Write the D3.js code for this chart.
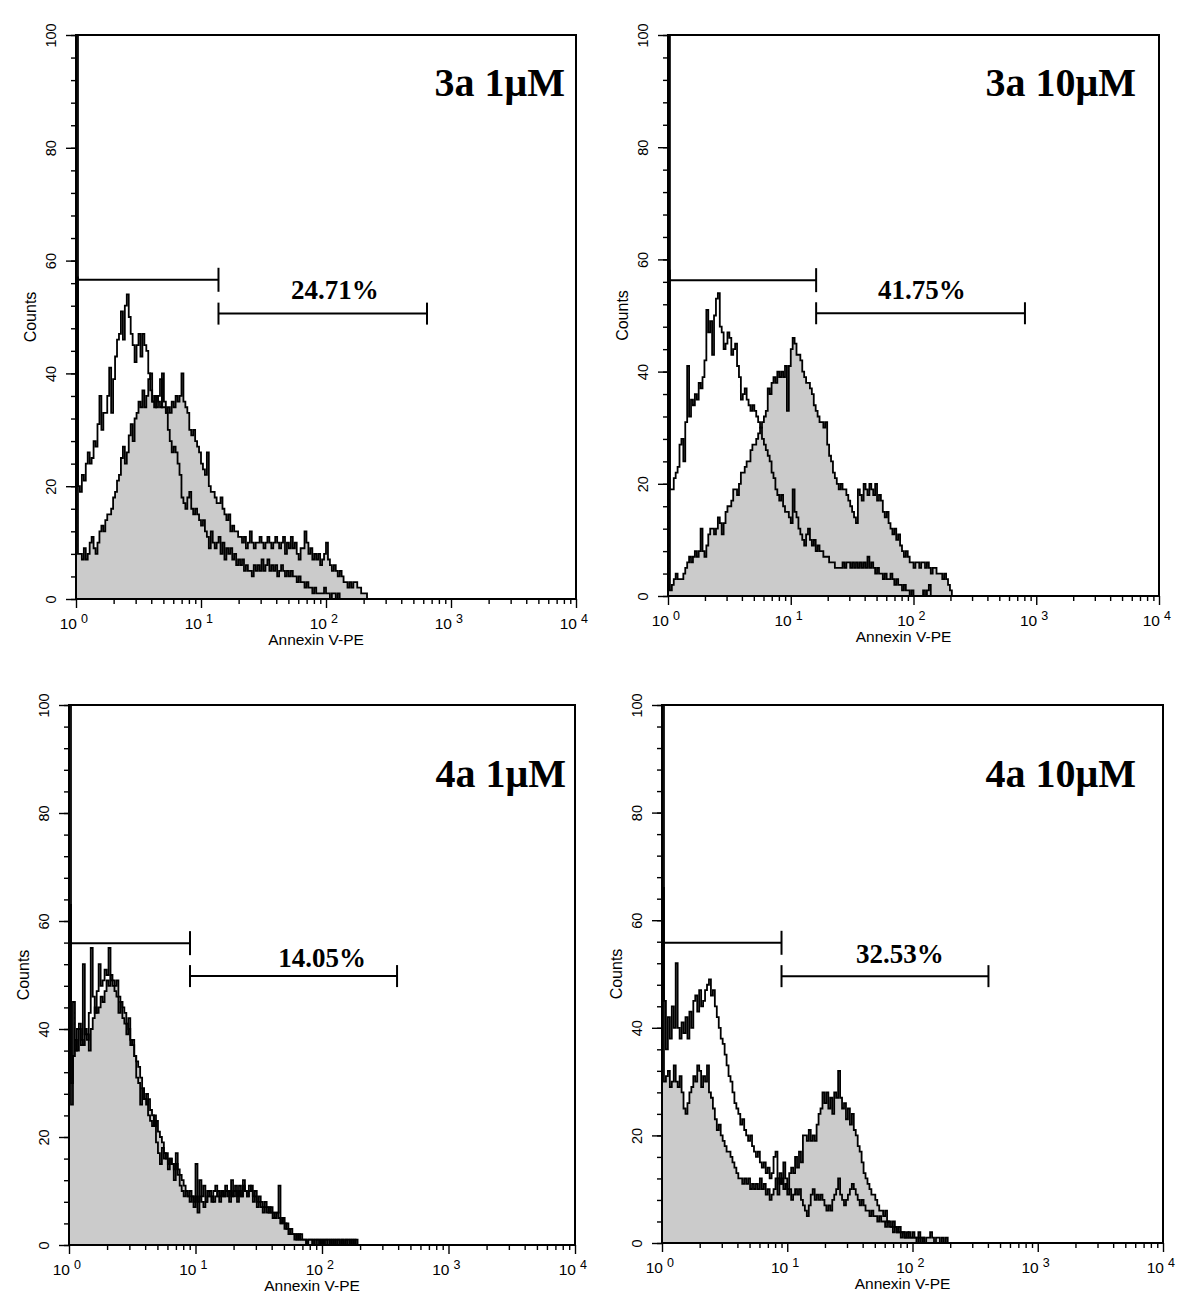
<!DOCTYPE html>
<html>
<head>
<meta charset="utf-8">
<script src="https://cdn.jsdelivr.net/npm/d3@7"></script>
<style>
  body { margin: 0; background: #fff; }
  text { font-family: "Liberation Sans", Arial, sans-serif; }
</style>
</head>
<body>
<script>
// 256 log channels over 4 decades, channel k sits at 10^(k/64)
const channelsPerDecade = 64;
const decadePowers = [0, 1, 2, 3, 4];
const yMajorTicks = [0, 20, 40, 60, 80, 100];

const panelTitles = ['3a 1\u03bcM', '3a 10\u03bcM', '4a 1\u03bcM', '4a 10\u03bcM'];
const gatePercents = ['24.71%', '41.75%', '14.05%', '32.53%'];
// [from, to, count level]
const gateM1 = [[1, 13.8, 56.6], [1, 16.1, 56.3], [1, 9.05, 55.9], [1, 9.0, 55.8]];
const gateM2 = [[13.8, 643, 50.6], [16.1, 809, 50.4], [9.05, 392, 49.8], [9.0, 404, 49.6]];
const gateLabelAt = [[118, 53.2], [117, 52.9], [100, 51.5], [79.4, 52.0]];

// open (control) histograms
const ctrl3a1 = [120,20,19,22,21,24,26,24,25,28, 27,31,36,30,33,33,36,41,33,39,
  43,46,47,51,46,52,54,50,47,45, 42,45,47,43,47,45,44,40,37,35,
  36,34,36,39,34,34,33,30,28,26, 27,26,24,22,18,17,16,18,19,16,
  15,16,15,14,13,14,12,11,9,12, 10,9,10,11,8,10,7,9,8,9,
  7,8,6,7,6,7,5,6,5,5, 4,6,5,6,5,7,5,6,7,5,
  6,5,6,4,5,6,5,4,5,4, 5,4,4,3,4,3,3,2,3,2,
  2,1,2,1,1,1,1,2,1,1, 0,1,1,0,1,0,0];
const ctrl3a10 = [120,19,19,21,22,23,27,28,24,31, 41,32,35,34,36,35,38,37,39,42,
  51,47,49,43,50,53,54,48,47,44, 45,47,46,43,44,45,41,39,35,36,
  37,35,34,33,34,33,32,31,30,28, 27,26,25,24,22,21,19,18,17,18,
  16,15,15,14,13,19,15,14,12,11, 10,9,11,12,10,9,10,8,9,8,
  8,7,7,7,6,6,6,5,5,5, 5,6,5,6,6,5,6,5,6,5,
  6,5,6,5,7,5,6,5,4,5, 4,4,3,4,3,3,4,3,2,3,
  2,2,1,2,1,1,0,1,0,0, 0,0,0,1,0,1,2,0];
const ctrl4a1 = [120,26,45,36,40,41,37,52,39,38, 43,55,46,43,47,52,48,49,51,50,
  55,49,48,47,46,43,45,42,41,39, 42,37,38,35,31,30,26,29,27,28,
  24,23,22,24,19,17,15,18,16,17, 14,16,15,12,17,13,11,10,9,10,
  9,8,9,7,15,6,12,9,11,8, 10,9,8,10,11,9,8,10,9,11,
  10,8,12,9,10,8,11,9,12,10, 9,11,10,8,9,7,8,7,6,7,
  6,7,6,5,6,6,11,4,5,3, 4,2,3,2,1,2,1,2,1,1,
  0,1,1,1,0,1,1,0,1,0, 1,1,0,1,0,1,1,0,1,0, 1,1,0,1,0,1,0];
const ctrl4a10 = [120,45,36,42,38,44,40,52,40,38, 41,39,42,38,43,40,45,46,43,47,
  44,45,47,48,49,46,47,44,42,40, 38,37,35,33,31,30,28,26,25,24,
  22,23,21,20,19,20,18,17,16,17, 15,14,15,13,14,12,13,16,17,12,
  11,12,10,11,9,10,8,9,10,9, 10,8,7,6,5,7,9,10,8,9,
  8,9,8,7,6,7,6,8,9,10, 12,9,8,7,8,9,10,11,10,9,
  8,7,8,7,6,6,5,6,5,5, 4,5,4,4,3,4,3,3,2,3,
  2,2,1,2,1,1,2,1,1,1, 0,1,0,1,0];

// filled (treated) histograms
const treat3a1 = [57,8,8,7,9,7,8,10,11,9, 8,10,12,13,12,14,15,15,16,18,
  19,21,22,25,27,24,26,29,31,28, 32,33,35,34,37,34,36,39,40,35,
  34,36,35,34,40,35,33,34,33,35, 34,36,35,36,40,35,34,33,30,29,
  30,28,27,26,24,23,22,26,20,19, 19,18,17,17,18,16,15,14,15,12,
  13,12,12,11,11,10,11,9,10,12, 10,9,10,10,11,10,9,10,11,10,
  9,10,11,10,9,10,11,8,10,9, 11,9,10,8,7,9,9,12,10,8,
  9,7,8,7,8,6,7,8,10,7, 6,5,6,5,4,5,4,3,3,2,
  3,2,3,3,2,2,1,1,1,0];
const treat3a10 = [58,1,2,3,4,3,3,3,4,5, 6,7,6,7,8,7,8,12,8,7,
  9,11,12,12,11,12,14,13,11,13, 15,16,16,17,19,19,18,20,22,22,
  23,24,24,26,27,27,28,29,30,31, 32,33,37,36,38,39,38,40,39,40,
  39,41,33,41,44,46,45,43,43,42, 40,39,38,38,37,36,34,33,32,31,
  31,30,31,27,25,24,22,21,20,19, 20,19,19,18,17,16,15,14,13,19,
  18,17,20,19,18,20,19,18,20,17, 18,17,15,14,15,13,12,11,12,10,
  11,9,8,7,8,7,6,6,5,6, 6,5,6,6,5,6,5,4,5,5,
  4,4,4,3,4,3,2,1,0];
const treat4a1 = [63,30,35,38,36,40,38,37,40,39, 36,40,42,44,43,44,46,45,47,49,
  48,50,49,48,49,46,45,44,43,41, 40,38,37,35,34,33,31,29,27,26,
  27,25,24,22,23,21,20,19,17,16, 15,16,15,14,15,14,13,12,11,10,
  9,10,9,8,9,8,9,8,7,8, 9,10,9,8,9,10,9,10,9,10,
  9,10,9,10,11,9,10,9,11,10, 9,10,11,9,10,8,9,8,7,8,
  7,6,7,6,5,6,5,4,5,4, 3,3,2,2,2,1,2,1,1,1,
  0,1,1,0,1,1,0,1,0,1, 1,0,1,0,1,0,1,0,1,0, 1,0,1,0,1,0,0];
const treat4a10 = [66,30,31,32,29,30,33,30,29,31, 28,25,24,26,28,29,31,30,33,32,
  29,31,30,33,28,27,25,23,21,22, 20,19,18,17,17,16,15,14,13,12,
  12,11,12,11,12,10,11,10,11,10, 12,10,11,9,10,8,9,10,12,9,
  13,11,15,12,10,13,14,13,16,14, 17,15,20,20,19,21,19,20,19,22,
  24,25,28,26,28,25,27,24,28,27, 32,27,25,26,23,25,22,24,21,20,
  18,17,15,13,12,11,10,9,9,8, 7,6,6,5,6,4,4,3,4,3,
  2,3,2,2,1,2,1,1,2,1, 1,2,1,1,0,1,1,2,1,0, 1,1,0,1,0,1,0];

const controls = [ctrl3a1, ctrl3a10, ctrl4a1, ctrl4a10];
const treated = [treat3a1, treat3a10, treat4a1, treat4a10];

// frame geometry of each panel (pixels)
const panels = [
  {left: 76,  right: 576,  top: 35,  bottom: 599,  titleX: 565,  titleY: 96},
  {left: 668, right: 1159, top: 35,  bottom: 596,  titleX: 1136, titleY: 96},
  {left: 69,  right: 575,  top: 705, bottom: 1245, titleX: 566,  titleY: 787},
  {left: 662, right: 1163, top: 705, bottom: 1243, titleX: 1136, titleY: 787}
];

const svg = d3.select('body').append('svg')
  .attr('width', 1200).attr('height', 1306);

function toPoints(arr) {
  let pts = arr.map(function(c, k) { return [Math.pow(10, k / channelsPerDecade), c]; });
  pts.push([Math.pow(10, arr.length / channelsPerDecade), 0]);
  return pts;
}

panels.forEach(function(p, i) {
  let x = d3.scaleLog().domain([1, 1e4]).range([p.left, p.right]);
  let y = d3.scaleLinear().domain([0, 100]).range([p.bottom, p.top]);
  let g = svg.append('g');

  g.append('clipPath').attr('id', 'clip' + i)
    .append('rect')
    .attr('x', p.left).attr('y', p.top)
    .attr('width', p.right - p.left).attr('height', p.bottom - p.top);

  let area = d3.area().curve(d3.curveStepAfter)
    .x(function(d) { return x(d[0]); })
    .y0(y(0))
    .y1(function(d) { return y(d[1]); });
  let line = d3.line().curve(d3.curveStepAfter)
    .x(function(d) { return x(d[0]); })
    .y(function(d) { return y(d[1]); });

  let plot = g.append('g').attr('clip-path', 'url(#clip' + i + ')');
  plot.append('path').attr('d', area(toPoints(treated[i])))
    .attr('fill', '#cbcbcb');
  plot.append('path').attr('d', line(toPoints(treated[i])))
    .attr('fill', 'none').attr('stroke', '#000').attr('stroke-width', 1.8);
  plot.append('path').attr('d', line(toPoints(controls[i])))
    .attr('fill', 'none').attr('stroke', '#000').attr('stroke-width', 1.8);

  // frame
  g.append('rect')
    .attr('x', p.left).attr('y', p.top)
    .attr('width', p.right - p.left).attr('height', p.bottom - p.top)
    .attr('fill', 'none').attr('stroke', '#000').attr('stroke-width', 2);

  // y axis
  let yMinor = g.append('g').attr('transform', 'translate(' + p.left + ',0)')
    .call(d3.axisLeft(y).tickValues(d3.range(0, 101, 4)).tickSize(5).tickFormat(''));
  let yMajor = g.append('g').attr('transform', 'translate(' + p.left + ',0)')
    .call(d3.axisLeft(y).tickValues(yMajorTicks).tickSize(10));
  [yMinor, yMajor].forEach(function(a) {
    a.select('.domain').remove();
    a.selectAll('line').attr('stroke-width', 1.4);
  });
  yMajor.selectAll('text')
    .attr('transform', 'rotate(-90)')
    .attr('x', 0).attr('y', -20).attr('dy', 0)
    .attr('text-anchor', 'middle')
    .style('font-size', '14.5px')
    .style('font-family', '"Liberation Sans", Arial, sans-serif');

  // x axis (log)
  let minorVals = [];
  decadePowers.slice(0, 4).forEach(function(e) {
    for (let m = 2; m <= 9; m++) minorVals.push(m * Math.pow(10, e));
  });
  let xMinor = g.append('g').attr('transform', 'translate(0,' + p.bottom + ')')
    .call(d3.axisBottom(x).tickValues(minorVals).tickSize(5).tickFormat(''));
  let xMajor = g.append('g').attr('transform', 'translate(0,' + p.bottom + ')')
    .call(d3.axisBottom(x).tickValues(decadePowers.map(function(e) { return Math.pow(10, e); }))
      .tickSize(9).tickFormat(''));
  [xMinor, xMajor].forEach(function(a) {
    a.select('.domain').remove();
    a.selectAll('line').attr('stroke-width', 1.4);
  });
  decadePowers.forEach(function(e) {
    let tx = x(Math.pow(10, e));
    g.append('text').attr('x', tx + 1).attr('y', p.bottom + 30)
      .attr('text-anchor', 'end').style('font-size', '15.5px').text('10');
    g.append('text').attr('x', tx + 5).attr('y', p.bottom + 24)
      .attr('text-anchor', 'start').style('font-size', '12.5px').text(e);
  });

  // axis titles
  g.append('text')
    .attr('x', (p.left + p.right) / 2 - 10).attr('y', p.bottom + 46)
    .attr('text-anchor', 'middle').style('font-size', '15.5px')
    .text('Annexin V-PE');
  g.append('text')
    .attr('transform', 'translate(' + (p.left - 40) + ',' + ((p.top + p.bottom) / 2) + ') rotate(-90)')
    .attr('text-anchor', 'middle').style('font-size', '16px')
    .text('Counts');

  // gate markers
  let m1 = gateM1[i], m2 = gateM2[i];
  let markers = g.append('g').attr('stroke', '#000').attr('stroke-width', 2);
  markers.append('line')
    .attr('x1', x(m1[0])).attr('x2', x(m1[1])).attr('y1', y(m1[2])).attr('y2', y(m1[2]));
  [m1[0], m1[1]].forEach(function(v) {
    markers.append('line').attr('x1', x(v)).attr('x2', x(v))
      .attr('y1', y(m1[2]) - 12).attr('y2', y(m1[2]) + 12);
  });
  markers.append('line')
    .attr('x1', x(m2[0])).attr('x2', x(m2[1])).attr('y1', y(m2[2])).attr('y2', y(m2[2]));
  [m2[0], m2[1]].forEach(function(v) {
    markers.append('line').attr('x1', x(v)).attr('x2', x(v))
      .attr('y1', y(m2[2]) - 11).attr('y2', y(m2[2]) + 11);
  });

  g.append('text')
    .attr('x', x(gateLabelAt[i][0])).attr('y', y(gateLabelAt[i][1]))
    .attr('text-anchor', 'middle')
    .style('font-family', '"Liberation Serif", "Times New Roman", serif')
    .style('font-weight', 'bold').style('font-size', '27px')
    .text(gatePercents[i]);

  // panel title
  g.append('text')
    .attr('x', p.titleX).attr('y', p.titleY)
    .attr('text-anchor', 'end')
    .style('font-family', '"Liberation Serif", "Times New Roman", serif')
    .style('font-weight', 'bold').style('font-size', '40px')
    .text(panelTitles[i]);
});
</script>
</body>
</html>
